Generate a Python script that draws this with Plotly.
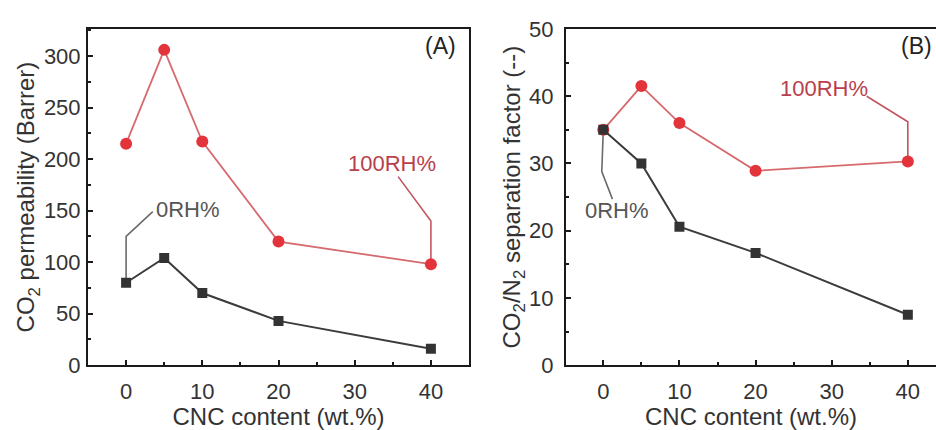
import plotly.graph_objects as go

# ---- data ----
cnc = [0, 5, 10, 20, 40]
perm_100rh = [215, 306, 217, 120, 98]
perm_0rh = [80, 104, 70, 43, 16]
sep_100rh = [35.0, 41.5, 36.0, 28.9, 30.3]
sep_0rh = [35.0, 30.0, 20.6, 16.7, 7.5]

x_ticks = [0, 10, 20, 30, 40]
label_100 = "100RH%"
label_0 = "0RH%"

# leader lines for in-plot labels (annotation geometry)
leadA_100_x = [35.7, 40, 40]
leadA_100_y = [183, 140, perm_100rh[-1]]
leadA_0_x = [0, 0, 3.5]
leadA_0_y = [perm_0rh[0], 125, 149]
leadB_100_x = [34.6, 40, 40]
leadB_100_y = [40.0, 36.2, sep_100rh[-1]]
leadB_0_x = [0, -0.2, 1.2]
leadB_0_y = [sep_0rh[0], 28.8, 24.7]

RED_LINE = "#d66a6e"
RED_MK = "#e3343b"
BLK_LINE = "#3c3c3c"
BLK_MK = "#333333"
RED_TXT = "#b8404c"
GRY_TXT = "#555555"
FONT = "Liberation Sans, Arial, sans-serif"

fig = go.Figure()

# leader lines
for lx, ly, col, xa, ya in [
    (leadA_100_x, leadA_100_y, "#c25560", "x", "y"),
    (leadA_0_x, leadA_0_y, "#6a6a6a", "x", "y"),
    (leadB_100_x, leadB_100_y, "#c25560", "x2", "y2"),
    (leadB_0_x, leadB_0_y, "#6a6a6a", "x2", "y2"),
]:
    fig.add_trace(go.Scatter(x=lx, y=ly, mode="lines", line=dict(color=col, width=1.6),
                             xaxis=xa, yaxis=ya, showlegend=False, hoverinfo="skip"))

# panel A
fig.add_trace(go.Scatter(x=cnc, y=perm_100rh, mode="lines+markers",
                         line=dict(color=RED_LINE, width=1.8),
                         marker=dict(symbol="circle", size=12, color=RED_MK),
                         xaxis="x", yaxis="y", showlegend=False))
fig.add_trace(go.Scatter(x=cnc, y=perm_0rh, mode="lines+markers",
                         line=dict(color=BLK_LINE, width=2),
                         marker=dict(symbol="square", size=10, color=BLK_MK),
                         xaxis="x", yaxis="y", showlegend=False))
# panel B
fig.add_trace(go.Scatter(x=cnc, y=sep_100rh, mode="lines+markers",
                         line=dict(color=RED_LINE, width=1.8),
                         marker=dict(symbol="circle", size=12, color=RED_MK),
                         xaxis="x2", yaxis="y2", showlegend=False))
fig.add_trace(go.Scatter(x=cnc, y=sep_0rh, mode="lines+markers",
                         line=dict(color=BLK_LINE, width=2),
                         marker=dict(symbol="square", size=10, color=BLK_MK),
                         xaxis="x2", yaxis="y2", showlegend=False))

ax_common = dict(showline=True, linecolor="#1a1a1a", linewidth=2, ticks="inside",
                 ticklen=5, tickwidth=2, tickcolor="#1a1a1a", showgrid=False, zeroline=False,
                 tickfont=dict(family=FONT, size=22, color="#333333"))
title_font = dict(family=FONT, size=24, color="#333333")
minor_x = dict(dtick=5, ticks="inside", ticklen=3, tickwidth=2, tickcolor="#1a1a1a")

ydom = [1 - 375 / 430, 1 - 18 / 430]
fig.update_layout(
    width=936, height=430,
    margin=dict(l=0, r=0, t=0, b=0),
    paper_bgcolor="white", plot_bgcolor="white",
    xaxis=dict(ax_common, domain=[88 / 936, 469 / 936], range=[-5, 45], tickvals=x_ticks,
               mirror=True, minor=minor_x, ticklabelstandoff=5,
               title=dict(text="CNC content (wt.%)", font=title_font, standoff=1), anchor="y"),
    yaxis=dict(ax_common, domain=ydom, range=[0, 326.3], dtick=50, mirror=True,
               minor=dict(minor_x, dtick=25), ticklabelstandoff=1,
               title=dict(text="CO<sub>2</sub> permeability (Barrer)", font=title_font, standoff=2), anchor="x"),
    xaxis2=dict(ax_common, domain=[566 / 936, 1.0], range=[-4.9, 43.7], tickvals=x_ticks,
                mirror=True, minor=minor_x, ticklabelstandoff=5,
                title=dict(text="CNC content (wt.%)", font=title_font, standoff=1), anchor="y2"),
    yaxis2=dict(ax_common, domain=ydom, range=[0, 50], dtick=10, mirror=False,
                minor=dict(minor_x, dtick=5), ticklabelstandoff=6,
                title=dict(text="CO<sub>2</sub>/N<sub>2</sub> separation factor (--)", font=title_font, standoff=2),
                anchor="x2"),
    annotations=[
        dict(text="(A)", x=41.2, y=310, xref="x", yref="y", showarrow=False,
             font=dict(family=FONT, size=23, color="#222222")),
        dict(text="(B)", x=41.2, y=47.5, xref="x2", yref="y2", showarrow=False,
             font=dict(family=FONT, size=23, color="#222222")),
        dict(text=label_100, x=34.9, y=195.6, xref="x", yref="y", showarrow=False,
             font=dict(family=FONT, size=22, color=RED_TXT)),
        dict(text=label_0, x=8.1, y=151, xref="x", yref="y", showarrow=False,
             font=dict(family=FONT, size=22, color=GRY_TXT)),
        dict(text=label_100, x=29.0, y=41.2, xref="x2", yref="y2", showarrow=False,
             font=dict(family=FONT, size=22, color=RED_TXT)),
        dict(text=label_0, x=1.8, y=23.0, xref="x2", yref="y2", showarrow=False,
             font=dict(family=FONT, size=22, color=GRY_TXT)),
    ],
)

fig.write_html("out.html")
